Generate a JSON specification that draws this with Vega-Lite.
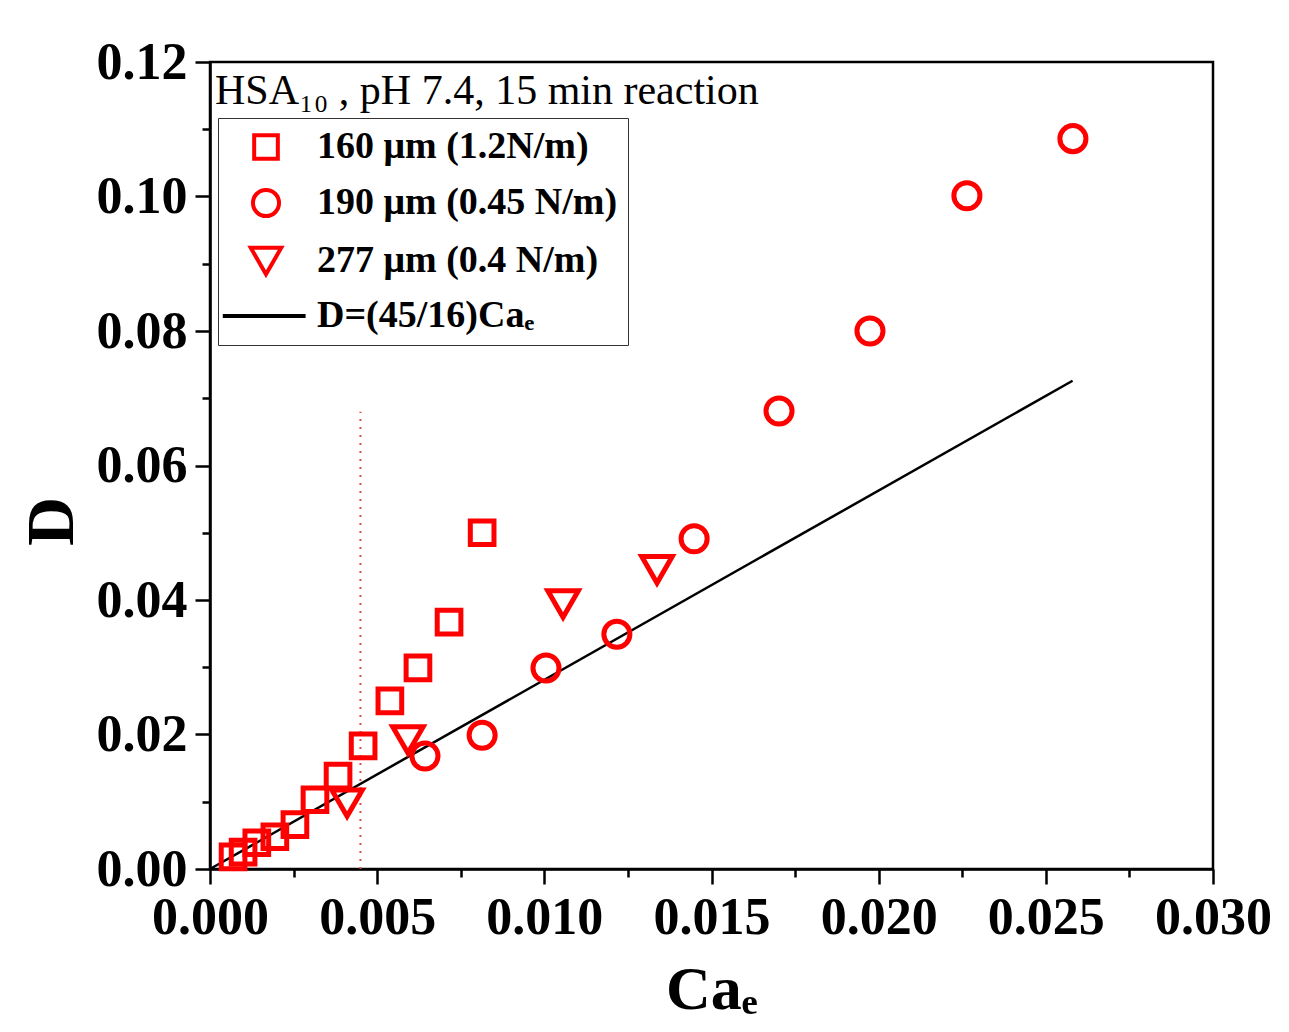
{
  "$schema": "https://vega.github.io/schema/vega-lite/v6.json",
  "width": 1003,
  "height": 807,
  "autosize": {"type": "none"},
  "padding": {"left": 210, "top": 62, "right": 76, "bottom": 163},
  "background": "white",
  "title": {
    "text": "HSA₁₀ , pH 7.4, 15 min reaction",
    "anchor": "start",
    "frame": "group",
    "font": "Liberation Serif",
    "fontWeight": "normal",
    "fontSize": 42,
    "color": "black",
    "baseline": "alphabetic",
    "offset": 0,
    "dy": 110,
    "dx": 5
  },
  "datasets": {
    "pts": [
      {"series": "160 μm (1.2N/m)", "ca": 0.00069, "d": 0.0018},
      {"series": "160 μm (1.2N/m)", "ca": 0.00099, "d": 0.0025},
      {"series": "160 μm (1.2N/m)", "ca": 0.0014, "d": 0.0039},
      {"series": "160 μm (1.2N/m)", "ca": 0.00194, "d": 0.0048},
      {"series": "160 μm (1.2N/m)", "ca": 0.00254, "d": 0.0066},
      {"series": "160 μm (1.2N/m)", "ca": 0.00314, "d": 0.0103},
      {"series": "160 μm (1.2N/m)", "ca": 0.00383, "d": 0.0138},
      {"series": "160 μm (1.2N/m)", "ca": 0.00458, "d": 0.0183},
      {"series": "160 μm (1.2N/m)", "ca": 0.00538, "d": 0.025},
      {"series": "160 μm (1.2N/m)", "ca": 0.00622, "d": 0.0299},
      {"series": "160 μm (1.2N/m)", "ca": 0.00715, "d": 0.0367},
      {"series": "160 μm (1.2N/m)", "ca": 0.00814, "d": 0.05},
      {"series": "190 μm (0.45 N/m)", "ca": 0.00643, "d": 0.0168},
      {"series": "190 μm (0.45 N/m)", "ca": 0.00814, "d": 0.0199},
      {"series": "190 μm (0.45 N/m)", "ca": 0.01005, "d": 0.0299},
      {"series": "190 μm (0.45 N/m)", "ca": 0.01217, "d": 0.0349},
      {"series": "190 μm (0.45 N/m)", "ca": 0.01448, "d": 0.0491},
      {"series": "190 μm (0.45 N/m)", "ca": 0.01702, "d": 0.0681},
      {"series": "190 μm (0.45 N/m)", "ca": 0.01974, "d": 0.08},
      {"series": "190 μm (0.45 N/m)", "ca": 0.02264, "d": 0.1001},
      {"series": "190 μm (0.45 N/m)", "ca": 0.02581, "d": 0.1086},
      {"series": "277 μm (0.4 N/m)", "ca": 0.0041, "d": 0.0098},
      {"series": "277 μm (0.4 N/m)", "ca": 0.00592, "d": 0.0192},
      {"series": "277 μm (0.4 N/m)", "ca": 0.01056, "d": 0.0394},
      {"series": "277 μm (0.4 N/m)", "ca": 0.01337, "d": 0.0445}
    ],
    "fit": [
      {"series": "D=(45/16)Caₑ", "ca": 0, "d": 0},
      {"series": "D=(45/16)Caₑ", "ca": 0.0258, "d": 0.0726}
    ],
    "marker": [
      {"ca": 0.0045, "d": 0, "d2": 0.068}
    ]
  },
  "layer": [
    {
      "data": {"name": "marker"},
      "mark": {"type": "rule", "color": "#E04848", "strokeWidth": 2, "strokeDash": [2, 6]},
      "encoding": {
        "x": {
          "field": "ca", "type": "quantitative",
          "scale": {"domain": [0, 0.03], "nice": false},
          "axis": {
            "orient": "bottom", "values": [0.0025, 0.0075, 0.0125, 0.0175, 0.0225, 0.0275],
            "labels": false, "domain": false, "tickSize": 8, "title": null, "grid": false
          }
        },
        "y": {
          "field": "d", "type": "quantitative",
          "scale": {"domain": [0, 0.12], "nice": false},
          "axis": {
            "orient": "left", "values": [0.01, 0.03, 0.05, 0.07, 0.09, 0.11],
            "labels": false, "domain": false, "tickSize": 8, "title": null, "grid": false
          }
        },
        "y2": {"field": "d2"}
      }
    },
    {
      "data": {"name": "fit"},
      "mark": {"type": "line", "strokeWidth": 2.5},
      "encoding": {
        "x": {"field": "ca", "type": "quantitative", "axis": null},
        "y": {"field": "d", "type": "quantitative", "axis": null},
        "color": {"field": "series", "type": "nominal"}
      }
    },
    {
      "data": {"name": "pts"},
      "mark": {"type": "point", "filled": false, "opacity": 1, "strokeWidth": 5},
      "encoding": {
        "x": {
          "field": "ca", "type": "quantitative",
          "axis": {
            "orient": "bottom", "values": [0, 0.005, 0.01, 0.015, 0.02, 0.025, 0.03],
            "format": ".3f", "title": "Caₑ", "grid": false,
            "titleFontSize": 62, "titleBaseline": "alphabetic", "titleY": 139
          }
        },
        "y": {
          "field": "d", "type": "quantitative",
          "axis": {
            "orient": "left", "values": [0, 0.02, 0.04, 0.06, 0.08, 0.1, 0.12],
            "format": ".2f", "title": "D", "grid": false,
            "titleFontSize": 68, "titleAngle": -90, "titleBaseline": "middle",
            "titleAlign": "center", "titleX": -158, "titleY": 459
          }
        },
        "color": {
          "field": "series", "type": "nominal",
          "scale": {
            "domain": ["160 μm (1.2N/m)", "190 μm (0.45 N/m)", "277 μm (0.4 N/m)", "D=(45/16)Caₑ"],
            "range": ["#FF0000", "#FF0000", "#FF0000", "#000000"]
          },
          "legend": {
            "title": null,
            "orient": "none",
            "legendX": 8,
            "legendY": 56,
            "padding": 10,
            "symbolOffset": 19,
            "labelOffset": 32,
            "rowPadding": 14,
            "strokeColor": "#333333",
            "symbolStrokeWidth": 4,
            "labelFont": "Liberation Serif",
            "labelFontWeight": "bold",
            "labelFontSize": 38,
            "labelColor": "black",
            "labelLimit": 400
          }
        },
        "shape": {
          "field": "series", "type": "nominal",
          "scale": {
            "domain": ["160 μm (1.2N/m)", "190 μm (0.45 N/m)", "277 μm (0.4 N/m)", "D=(45/16)Caₑ"],
            "range": ["square", "circle", "triangle-down", "M-3.6,0H3.3"]
          }
        },
        "size": {
          "field": "series", "type": "nominal",
          "scale": {
            "type": "ordinal",
            "domain": ["160 μm (1.2N/m)", "190 μm (0.45 N/m)", "277 μm (0.4 N/m)", "D=(45/16)Caₑ"],
            "range": [560, 680, 930, 576]
          }
        }
      }
    }
  ],
  "resolve": {"axis": {"x": "independent", "y": "independent"}},
  "config": {
    "view": {"stroke": "black", "strokeWidth": 2.5},
    "font": "Liberation Serif",
    "axis": {
      "domainColor": "black",
      "domainWidth": 2.5,
      "tickColor": "black",
      "tickWidth": 2.5,
      "tickSize": 15,
      "labelFont": "Liberation Serif",
      "labelFontWeight": "bold",
      "labelFontSize": 52,
      "labelColor": "black",
      "labelPadding": 8,
      "labelFlush": false,
      "labelOverlap": false,
      "titleFont": "Liberation Serif",
      "titleFontWeight": "bold",
      "titleColor": "black"
    }
  }
}
